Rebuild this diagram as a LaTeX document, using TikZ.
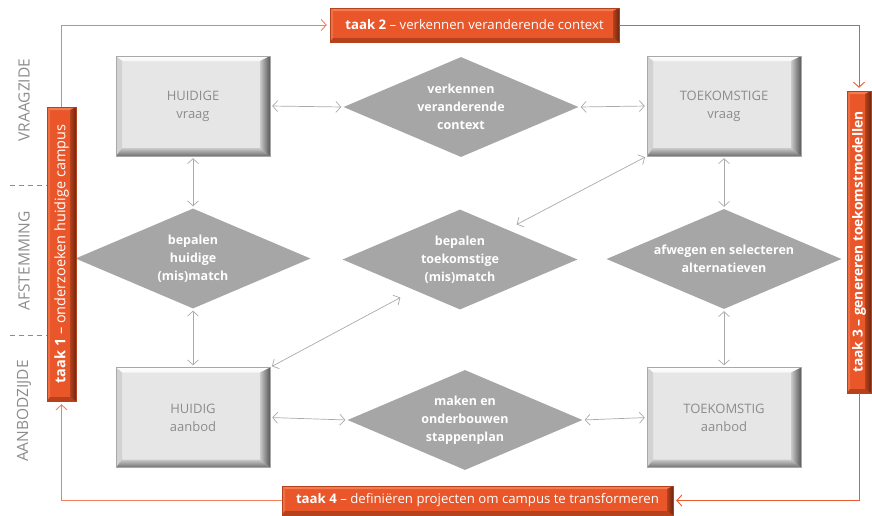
\documentclass[tikz,border=0pt]{standalone}
\usepackage{fontspec}
\setmainfont{Open Sans}
\usetikzlibrary{arrows.meta,calc,shapes.geometric}
\definecolor{gface}{HTML}{E6E6E6}
\definecolor{gtop}{HTML}{F6F6F6}
\definecolor{gleft}{HTML}{D2D2D2}
\definecolor{gbotin}{HTML}{CACACA}
\definecolor{gbotout}{HTML}{707070}
\definecolor{grightout}{HTML}{585858}
\definecolor{goutline}{HTML}{A8A8A8}
\definecolor{gtext}{HTML}{8C8C8C}
\definecolor{dgray}{HTML}{A6A6A6}
\definecolor{agray}{HTML}{AAAAAA}
\definecolor{oface}{HTML}{E8562A}
\definecolor{otop}{HTML}{F47C50}
\definecolor{oleft}{HTML}{F07044}
\definecolor{obot}{HTML}{B5421C}
\definecolor{oright}{HTML}{6E2610}
\definecolor{olinelight}{HTML}{F2805C}
\definecolor{olinedark}{HTML}{E85A30}
\definecolor{side}{HTML}{8C8C8C}
% gray bevelled face: x1 y1 x2 y2
\newcommand\grayface[4]{%
 \fill[gface] (#1,#2) rectangle (#3,#4);
 \shade[top color=white, bottom color=gtop] (#1,#2) -- (#3,#2) -- (#3-10,#2+5) -- (#1+6,#2+5) -- cycle;
 \fill[gleft] (#1,#2) -- (#1+6,#2+5) -- (#1+6,#4-8) -- (#1,#4) -- cycle;
 \shade[top color=gbotin, bottom color=gbotout] (#1,#4) -- (#1+6,#4-8) -- (#3-10,#4-8) -- (#3,#4) -- cycle;
 \shade[left color=gbotin, right color=grightout] (#3,#2) -- (#3,#4) -- (#3-10,#4-8) -- (#3-10,#2+5) -- cycle;
 \draw[goutline, line width=0.7pt] (#1,#2) rectangle (#3,#4);
}
% orange bevelled face: x1 y1 x2 y2
\newcommand\orangeface[4]{%
 \fill[oface] (#1,#2) rectangle (#3,#4);
 \fill[otop] (#1,#2) -- (#3,#2) -- (#3-6,#2+3) -- (#1+3,#2+3) -- cycle;
 \fill[oleft] (#1,#2) -- (#1+3,#2+3) -- (#1+3,#4-4) -- (#1,#4) -- cycle;
 \fill[obot] (#1,#4) -- (#1+3,#4-4) -- (#3-6,#4-4) -- (#3,#4) -- cycle;
 \shade[left color=obot, right color=oright] (#3,#2) -- (#3,#4) -- (#3-6,#4-4) -- (#3-6,#2+3) -- cycle;
 \draw[obot, line width=0.5pt] (#1,#2) rectangle (#3,#4);
}
\tikzset{
 gbox/.style={rectangle, minimum width=154, minimum height=100, inner sep=0pt, text=gtext, font=\fontsize{13}{18}\selectfont, align=center},
 dia/.style={diamond, shape aspect=2.35, fill=dgray, minimum width=235, minimum height=100, inner sep=0pt, text=white, font=\bfseries\fontsize{12.5}{18}\selectfont, align=center},
 taskbox/.style={rectangle, inner sep=0pt, text=white, font=\fontsize{13.2}{15}\selectfont},
 conn/.style={draw=agray, line width=0.7pt, {Straight Barb[length=5pt,width=11pt]}-{Straight Barb[length=5pt,width=11pt]}, shorten <=2pt, shorten >=2pt},
 oconn/.style={line width=0.9pt, -{Straight Barb[length=5pt,width=11pt]}, shorten >=3pt},
 sidelabel/.style={text=side, font=\fontsize{15.5}{17}\selectfont, rotate=90, inner sep=0pt},
 dashline/.style={draw=side, line width=0.8pt, dash pattern=on 5pt off 4pt},
}
\begin{document}
\begin{tikzpicture}[x=1pt,y=-1pt]
\useasboundingbox (0,0) rectangle (872,515);
% side labels
\node[sidelabel] (lv) at (24,100) {VRAAGZIDE};
\node[sidelabel] (la) at (24,261) {AFSTEMMING};
\node[sidelabel] (lb) at (24,411) {AANBODZIJDE};
\draw[dashline] (10,185) -- (47,185);
\draw[dashline] (10,335) -- (47,335);
% gray boxes
\grayface{116}{56}{270}{156}
\node[gbox] (hv) at (193,106) {HUIDIGE\\vraag};
\grayface{647}{56}{801}{156}
\node[gbox] (tv) at (724,106) {TOEKOMSTIGE\\vraag};
\grayface{116}{367.5}{270}{467.5}
\node[gbox] (ha) at (193,417.5) {HUIDIG\\aanbod};
\grayface{647}{367.5}{801}{467.5}
\node[gbox] (ta) at (724,417.5) {TOEKOMSTIG\\aanbod};
% diamonds
\node[dia] (d1) at (461,107) {verkennen\\veranderende\\context};
\node[dia] (d2) at (193,258.5) {bepalen\\huidige\\(mis)match};
\node[dia] (d3) at (460,259.5) {bepalen\\toekomstige\\(mis)match};
\node[dia] (d4) at (724,259) {afwegen en selecteren\\alternatieven};
\node[dia] (d5) at (465,420) {maken en\\onderbouwen\\stappenplan};
% task boxes
\orangeface{330}{8}{619}{42}
\node[taskbox, minimum width=289, minimum height=34] (t2) at (474.5,25) {\textbf{taak 2} – verkennen veranderende context};
\orangeface{282}{486}{673}{515}
\node[taskbox, minimum width=391, minimum height=29] (t4) at (477.5,500.5) {\textbf{taak 4} – definiëren projecten om campus te transformeren};
\orangeface{47}{107}{76}{401}
\node[taskbox, rotate=90, minimum width=294, minimum height=29, font=\fontsize{14.5}{16}\selectfont] (t1) at (61.5,254) {\textbf{taak 1} – onderzoeken huidige campus};
\orangeface{847}{91}{871}{393}
\node[taskbox, rotate=90, minimum width=302, minimum height=24, font=\fontsize{13.8}{15}\selectfont] (t3) at (859,242) {\textbf{taak 3 – genereren toekomstmodellen}};
% gray connectors
\draw[conn] (hv.east) -- (d1.west);
\draw[conn] (d1.east) -- (tv.west);
\draw[conn] (hv.south) -- (d2.north);
\draw[conn] (d2.south) -- (ha.north);
\draw[conn] (tv.south) -- (d4.north);
\draw[conn] (d4.south) -- (ta.north);
\draw[conn] (ha.east) -- (d5.west);
\draw[conn] (d5.east) -- (ta.west);
\draw[conn] (tv.south west) -- ($(d3.north east)+(-4,-9)$);
\draw[conn] ($(d3.south west)+(1,12)$) -- (ha.north east);
% orange connectors
\draw[oconn, draw=olinelight] (t1.east) |- (t2.west);
\draw[oconn, draw=olinedark] (t2.east) -| (t3.east);
\draw[oconn, draw=olinedark] (t3.west) |- (t4.east);
\draw[oconn, draw=olinelight] (t4.west) -| (t1.west);
\end{tikzpicture}
\end{document}
